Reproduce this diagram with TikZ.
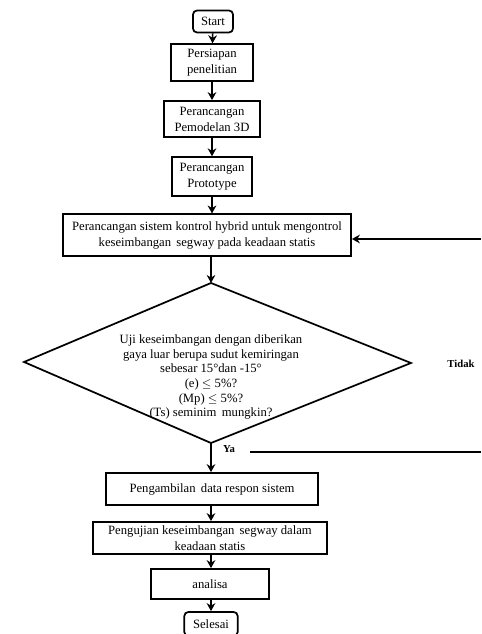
\documentclass[tikz,border=0pt]{standalone}
\usepackage{fontspec}
\setmainfont{Liberation Serif}
\usepackage{amsmath,amssymb}
\usetikzlibrary{arrows.meta}

\tikzset{
	box/.style={draw, line width=1.3pt, align=center, inner sep=1pt,
		font=\fontsize{9.5}{12}\selectfont},
	endbox/.style={box, rounded corners=3pt},
	arr/.style={-{Stealth[length=6pt,width=6.5pt]}, line width=1.2pt},
	lbl/.style={font=\fontsize{8}{9}\selectfont\bfseries}
}

\begin{document}
\begin{tikzpicture}[x=0.75pt, y=-0.75pt]
	\useasboundingbox (0,0) rectangle (481,634);
	% main column
	\node[endbox, minimum width=30pt, minimum height=16.5pt] (start) at (213,21.5) {Start};
	\node[box, minimum width=61pt, minimum height=27.5pt] (persiapan) at (212,62.5) {Persiapan\\penelitian};
	\node[box, minimum width=72pt, minimum height=27pt] (pemodelan) at (212,119) {Perancangan\\Pemodelan 3D};
	\node[box, minimum width=60pt, minimum height=29pt] (prototype) at (212,176.5) {Perancangan\\Prototype};
	\node[box, minimum width=216pt, minimum height=31pt] (hybrid) at (207,235) {Perancangan sistem kontrol hybrid untuk mengontrol\\keseimbangan\, segway pada keadaan statis};
	% decision
	\coordinate (dtop) at (211,283);
	\coordinate (dright) at (411,363);
	\coordinate (dbot) at (211,443);
	\coordinate (dleft) at (24,362);
	\draw[line width=1.3pt] (dtop) -- (dright) -- (dbot) -- (dleft) -- cycle;
	\node[align=center, inner sep=0pt, font=\fontsize{9.5}{11}\selectfont] (uji) at (211,377)
		{Uji keseimbangan dengan diberikan\\gaya luar berupa sudut kemiringan\\sebesar 15°dan -15°\\(e) $\leq$ 5\%?\\(Mp) $\leq$ 5\%?\\(Ts) seminim\, mungkin?};
	\node[lbl] (tidak) at (461,364) {Tidak};
	\node[lbl] (ya) at (229,449) {Ya};
	\node[box, minimum width=159pt, minimum height=24pt] (ambil) at (212,489) {Pengambilan\, data respon sistem};
	\node[box, minimum width=175pt, minimum height=24pt] (uji2) at (210,538) {Pengujian keseimbangan\, segway dalam\\keadaan statis};
	\node[box, minimum width=89pt, minimum height=22.5pt] (analisa) at (210,584) {analisa};
	\node[endbox, minimum width=40pt, minimum height=18pt] (selesai) at (211,624) {Selesai};
	% loop back
	\coordinate (yaline) at (250,452);
	\coordinate (yaend) at (481,452);
	\coordinate (loopin) at (481,239);
	\draw[line width=1.3pt] (yaline) -- (yaend);
	\draw[arr] (loopin) -- (loopin -| hybrid.east);
	% arrows
	\draw[arr] (start) -- (persiapan);
	\draw[arr] (persiapan) -- (pemodelan);
	\draw[arr] (pemodelan) -- (prototype);
	\draw[arr] (prototype.south) -- (prototype.south |- hybrid.north);
	\draw[arr] (hybrid.south -| dtop) -- (dtop);
	\draw[arr] (dbot) -- (dbot |- ambil.north);
	\draw[arr] (ambil.south -| dbot) -- (dbot |- uji2.north);
	\draw[arr] (uji2.south -| dbot) -- (dbot |- analisa.north);
	\draw[arr] (analisa.south -| dbot) -- (dbot |- selesai.north);
\end{tikzpicture}
\end{document}
